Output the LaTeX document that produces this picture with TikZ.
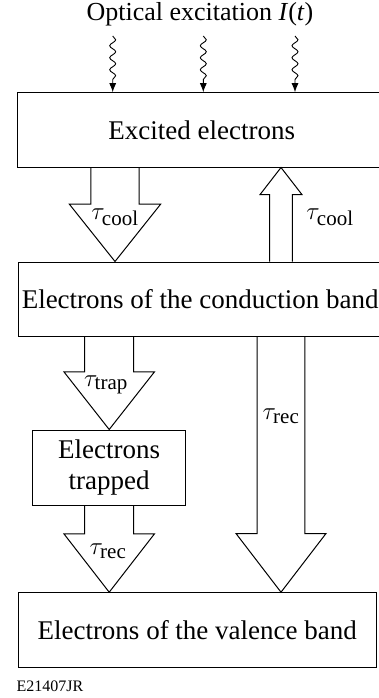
\documentclass[tikz,border=0pt]{standalone}
\usepackage{fontspec}
\setmainfont{Liberation Serif}
\DeclareMathSizes{27}{27}{21}{16}
\usetikzlibrary{arrows.meta,decorations.pathmorphing,calc}

% hollow block arrow: start, tip, shaft half width, head half width, head length
\newcommand{\hollowarrow}[5]{%
  \draw[hollow] let \p1=(#1), \p2=(#2), \n1={sign(\y1-\y2)} in
    (\x1-#3pt,\y1) -- (\x1-#3pt,\y2+\n1*#5pt) -- (\x1-#4pt,\y2+\n1*#5pt)
    -- (\x1,\y2) -- (\x1+#4pt,\y2+\n1*#5pt) -- (\x1+#3pt,\y2+\n1*#5pt) -- (\x1+#3pt,\y1);
}

\begin{document}
\begin{tikzpicture}[x=1pt,y=-1pt,
  font=\fontsize{27}{31}\selectfont,
  box/.style={draw,line width=1pt,inner sep=0pt,align=center},
  hollow/.style={line width=1pt,line join=miter},
  wavy/.style={line width=0.9pt,decorate,
    decoration={snake,amplitude=3pt,segment length=12pt,post length=8pt},
    -{Latex[length=9pt,width=7pt]}}]
  \useasboundingbox (0,0) rectangle (378,698);

  % boxes
  \node[box,minimum width=368.5pt,minimum height=74.3pt] (excited) at (201.75,129.85) {Excited electrons};
  \node[box,minimum width=363.7pt,minimum height=74pt] (cond) at (200.2,299) {Electrons of the conduction band};
  \node[box,minimum width=153pt,minimum height=75pt] (trapped) at (109.2,467.5) {Electrons\\trapped};
  \node[box,minimum width=357.7pt,minimum height=75pt] (val) at (197.2,630.2) {Electrons of the valence band};

  % excitation
  \node[font=\fontsize{26}{30}\selectfont] (title) at (200,14) {Optical excitation \textit{I}(\textit{t})};
  \coordinate (w1) at (112.7,36);
  \coordinate (w2) at (203.3,36);
  \coordinate (w3) at (295,36);
  \foreach \w in {w1,w2,w3}
    \draw[wavy] (\w) -- (\w |- excited.north);

  % arrows
  \coordinate (cA) at (115,0);
  \coordinate (cB) at (281,0);
  \hollowarrow{excited.south -| cA}{cond.north -| cA}{24.2}{45.7}{57.4}
  \hollowarrow{cond.north -| cB}{excited.south -| cB}{11.4}{20.9}{27}
  \hollowarrow{cond.south -| trapped}{trapped.north}{24.5}{45.3}{57.7}
  \hollowarrow{trapped.south}{val.north -| trapped}{24.5}{45.3}{58.4}
  \hollowarrow{cond.south -| cB}{val.north -| cB}{23.8}{45}{58.7}

  % labels
  \node (l1) at (115,217) {$\tau_{\mathrm{cool}}$};
  \node (l2) at (330,217) {$\tau_{\mathrm{cool}}$};
  \node (l3) at (106,385) {$\tau_{\mathrm{trap}}$};
  \node (l4) at (281,416) {$\tau_{\mathrm{rec}}$};
  \node (l5) at (108,551) {$\tau_{\mathrm{rec}}$};

  \node[anchor=west,font=\fontsize{16}{19}\selectfont] (code) at (13,686) {E21407JR};
\end{tikzpicture}
\end{document}
